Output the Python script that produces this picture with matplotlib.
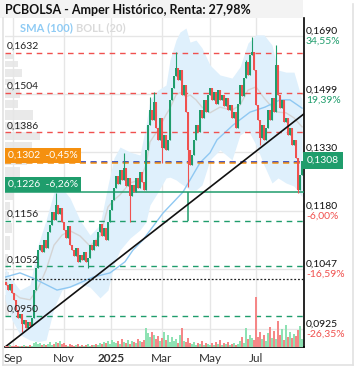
import numpy as np
import matplotlib
matplotlib.use("Agg")
import matplotlib.pyplot as plt
from matplotlib.patches import Rectangle
from matplotlib.lines import Line2D

plt.rcParams["font.family"] = ["Lato", "DejaVu Sans"]

# --- data (one candle ~ two sessions) --------------------------------------
closes = [
    0.1013, 0.1002, 0.1015, 0.0996, 0.0982, 0.0962, 0.0946, 0.0954, 0.0935, 0.0942,
    0.0927, 0.0938, 0.0931, 0.0946, 0.1002, 0.1049, 0.1088, 0.1099, 0.1084, 0.1111,
    0.1093, 0.1129, 0.1146, 0.1177, 0.1157, 0.1194, 0.1172, 0.1186, 0.1153, 0.1134,
    0.1115, 0.1143, 0.1099, 0.1088, 0.1075, 0.1093, 0.1062, 0.1077, 0.1066, 0.1084,
    0.1062, 0.1070, 0.1099, 0.1088, 0.1111, 0.1097, 0.1129, 0.1148, 0.1120, 0.1139,
    0.1111, 0.1153, 0.1182, 0.1206, 0.1236, 0.1267, 0.1246, 0.1283, 0.1257, 0.1288,
    0.1241, 0.1262, 0.1216, 0.1244, 0.1226, 0.1262, 0.1236, 0.1278, 0.1252, 0.1231,
    0.1337, 0.1407, 0.1451, 0.1422, 0.1476, 0.1399, 0.1365, 0.1428, 0.1342, 0.1379,
    0.1337, 0.1365, 0.1482, 0.1519, 0.1557, 0.1582, 0.1544, 0.1576, 0.1497, 0.1528,
    0.1445, 0.1337, 0.1296, 0.1323, 0.1365, 0.1407, 0.1387, 0.1451, 0.1428, 0.1482,
    0.1445, 0.1497, 0.1519, 0.1482, 0.1506, 0.1469, 0.1512, 0.1482, 0.1497, 0.1463,
    0.1488, 0.1451, 0.1466, 0.1428, 0.1445, 0.1399, 0.1469, 0.1528, 0.1494, 0.1550,
    0.1602, 0.1560, 0.1625, 0.1635, 0.1576, 0.1466, 0.1422, 0.1370, 0.1407, 0.1365,
    0.1399, 0.1451, 0.1422, 0.1488, 0.1445, 0.1592, 0.1497, 0.1457, 0.1482, 0.1416,
    0.1428, 0.1379, 0.1399, 0.1351, 0.1365, 0.1315, 0.1231, 0.1270, 0.1308,
]
first_open = 0.1018

wick_hi_idx = [25, 59, 72, 74, 85, 120, 123, 135]
wick_hi_val = [0.1224, 0.1329, 0.1491, 0.1506, 0.1635, 0.1610, 0.1687, 0.1659]
wick_lo_idx = [8, 41, 62, 78, 91, 127, 146]
wick_lo_val = [0.0919, 0.1049, 0.1153, 0.1302, 0.1239, 0.1351, 0.1224]

volume = [
    1, 1, 2, 1, 1, 2, 1, 1, 1, 2, 1, 1, 2, 1,
    4, 5, 3, 4,
    2, 3, 2, 3, 5, 2, 3,
    5, 4, 6, 3, 4,
    2, 1, 3, 2, 1, 2, 3, 1, 2, 1, 2, 3, 1, 2, 2,
    3, 2, 4, 3, 5,
    4, 6, 3, 7, 5,
    4, 6, 3, 8, 5, 4, 7, 3, 6, 5, 4, 8, 6, 5, 7,
    19, 14, 10, 15, 12, 8, 11,
    6, 9, 15, 7, 12, 5, 10, 6,
    8, 4, 12, 19, 6, 5, 9, 4,
    3, 5, 2, 4, 3, 6, 2, 4, 3, 2,
    4, 2, 5, 3, 7, 2, 4, 3, 5, 2, 3, 4, 2, 3,
    6, 10, 4, 19, 8, 12, 9, 7,
    50,
    10, 15, 8, 12, 6, 14, 20, 9, 16, 8, 26, 12, 18, 7, 22, 10, 15, 9, 13, 11, 17, 21, 8,
]

# Bollinger (20) band and SMA (100), sampled along the chart
boll_x = [-0.5, 3, 7, 12, 16, 20, 24, 28, 32, 37, 42, 47, 51, 54, 57, 62, 67, 70, 72, 76,
          80, 82, 85, 87, 90, 92, 95, 98, 102, 107, 113, 117, 121, 125, 129, 133, 136, 140,
          144, 148]
boll_up = [0.1049, 0.1023, 0.1002, 0.1013, 0.1099, 0.1157, 0.1226, 0.1236, 0.1211, 0.1157,
           0.1122, 0.1146, 0.1244, 0.1315, 0.1345, 0.1331, 0.1323, 0.1407, 0.1482, 0.1512,
           0.1528, 0.1609, 0.1676, 0.1704, 0.1718, 0.1669, 0.1676, 0.1649, 0.1592, 0.1560,
           0.1550, 0.1586, 0.1666, 0.1694, 0.1694, 0.1659, 0.1576, 0.1569, 0.1569, 0.1482]
boll_mid = [0.1023, 0.0998, 0.0986, 0.0982, 0.1006, 0.1044, 0.1099, 0.1122, 0.1132, 0.1120,
            0.1097, 0.1120, 0.1189, 0.1206, 0.1219, 0.1249, 0.1257, 0.1296, 0.1359, 0.1393,
            0.1437, 0.1457, 0.1497, 0.1504, 0.1491, 0.1497, 0.1482, 0.1460, 0.1443, 0.1460,
            0.1451, 0.1466, 0.1512, 0.1522, 0.1488, 0.1460, 0.1445, 0.1443, 0.1428, 0.1402]
boll_lo = [0.0982, 0.0942, 0.0914, 0.0904, 0.0901, 0.0904, 0.0966, 0.1002, 0.1008, 0.1015,
           0.1008, 0.0986, 0.1002, 0.1056, 0.1088, 0.1115, 0.1134, 0.1153, 0.1194, 0.1226,
           0.1262, 0.1264, 0.1257, 0.1249, 0.1239, 0.1231, 0.1231, 0.1244, 0.1310, 0.1337,
           0.1310, 0.1379, 0.1393, 0.1351, 0.1296, 0.1249, 0.1262, 0.1249, 0.1241, 0.1214]

sma_x = [-0.5, 7, 13.5, 25.5, 32, 43.5, 52, 59.5, 63.5, 68.5, 78.5, 88.5, 97, 102, 105.5,
         113.5, 122, 129.5, 137, 142, 148]
sma_y = [0.1029, 0.1038, 0.1027, 0.1002, 0.1008, 0.1029, 0.1038, 0.1062, 0.1088, 0.1111,
         0.1174, 0.1226, 0.1302, 0.1329, 0.1365, 0.1407, 0.1445, 0.1460, 0.1482, 0.1482,
         0.1457]

# volume-by-price profile on the left edge
vp_edges = [0.1632, 0.1612, 0.1586, 0.1553, 0.1528, 0.1488, 0.1457, 0.1422, 0.1393, 0.1365,
            0.1329, 0.1296, 0.1264, 0.1231, 0.1206, 0.1182, 0.1157, 0.1127, 0.1088, 0.1049,
            0.1002, 0.0950]
vp_vol = [8, 13, 17, 10, 15, 13, 28, 20, 35, 27, 22, 15, 10, 8, 5, 4, 7, 5, 3, 4, 4]

month_pos = [3.5, 29, 52.5, 78, 102, 125]
month_lbl = ["Sep", "Nov", "2025", "Mar", "May", "Jul"]

last_price = 0.1308
left_red = [0.1632, 0.1504, 0.1386]
left_green = [0.1156, 0.1052, 0.0950]
orange_lvl = 0.1302
blue_lvl = 0.1305
support_lvl = 0.1226
box_levels = [orange_lvl, support_lvl]
box_pct = ["-0,45%", "-6,26%"]
dotted_lvl = 0.1025
right_ticks = [0.1690, 0.1499, 0.1330, 0.1180, 0.1047, 0.0925]
right_pct = ["34,55%", "19,39%", "5,91%", "-6,00%", "-16,59%", "-26,35%"]
trend_x = [-0.5, 149]
trend_y = [0.0891, 0.1440]
seg_x = 91

GREEN = "#1f9d6c"
RED = "#f0514f"
ORANGE = "#f5900f"
GRID = "#e6e6e6"


def fmt(v, nd=4):
    return f"{v:.{nd}f}".replace(".", ",")


W, H = 358, 370
fig = plt.figure(figsize=(W / 100, H / 100), dpi=100)
fig.patch.set_facecolor("white")

# main price axes (pixel box 5..304 x 18..347)
ax = fig.add_axes([5 / W, (H - 347) / H, 299 / W, 329 / H])
ax.set_yscale("log")
ax.set_ylim(0.08912, 0.17539)
ax.set_xlim(-0.5, 149)

axp = ax.twiny()   # volume profile
axv = ax.twinx()   # volume bars
axp.set_zorder(0)
ax.set_zorder(1)
axv.set_zorder(2)
ax.patch.set_visible(False)
axv.patch.set_visible(False)

# profile bars
lo_e = np.array(vp_edges[1:])
hi_e = np.array(vp_edges[:-1])
axp.barh(lo_e, vp_vol, height=(hi_e - lo_e) * 0.8, left=0, align="edge",
         color="#e9e9e9", edgecolor="none")
axp.set_xlim(0, 299)
axp.set_yscale("log")
axp.set_ylim(ax.get_ylim())
axp.axis("off")

# grid
for p in month_pos:
    ax.axvline(p, color=GRID, lw=1, zorder=0)
for p in right_ticks:
    ax.axhline(p, color=GRID, lw=1, zorder=0)

# bollinger + sma
ax.fill_between(boll_x, boll_lo, boll_up, color="#dff0fc", lw=0, zorder=1)
ax.plot(boll_x, boll_mid, color="#d4d4d4", lw=1, zorder=2)
ax.plot(sma_x, sma_y, color="#8fc8f2", lw=1, zorder=2)

# candles
c = np.array(closes)
o = np.r_[first_open, c[:-1]]
hi = np.maximum(o, c)
lo = np.minimum(o, c)
hi[wick_hi_idx] = wick_hi_val
lo[wick_lo_idx] = wick_lo_val
idx = np.arange(len(c))
col = np.where(c >= o, GREEN, RED)
ax.vlines(idx, lo, hi, colors=col, lw=0.8, zorder=4)
ax.bar(idx, np.abs(c - o), bottom=np.minimum(o, c), width=0.7,
       color=col, edgecolor="none", zorder=4)

# horizontal levels
for lv in left_red:
    ax.axhline(lv, color=RED, lw=1, ls=(0, (4, 3.5)), zorder=3)
for lv in left_green:
    ax.axhline(lv, color=GREEN, lw=1, ls=(0, (4, 3.5)), zorder=3)
ax.axhline(blue_lvl, color="#1a2aa8", lw=1.1, ls=(0, (4, 3)), zorder=3)
ax.axhline(orange_lvl, color=ORANGE, lw=1.1, ls=(0, (4, 3)), zorder=3)
ax.axhline(support_lvl, color=GREEN, lw=1.1, zorder=3)
ax.axhline(dotted_lvl, color="#222222", lw=0.9, ls=(0, (1.5, 1.5)), zorder=3)
ax.vlines(seg_x, left_green[0], support_lvl, color=GREEN, lw=1.1, zorder=3)
ax.plot(trend_x, trend_y, color="#111111", lw=1.2, zorder=5)

# volume bars
axv.bar(idx, volume, width=0.7, color=np.where(c >= o, "#8ee2b3", "#f58787"),
        edgecolor="none")
axv.set_ylim(0, max(volume) * 329 / 50)
axv.axis("off")

# axes cosmetics
ax.set_xticks(month_pos)
ax.set_xticklabels(month_lbl, fontsize=8.5, color="#333333")
ax.get_xticklabels()[2].set_fontweight("bold")
ax.tick_params(axis="x", length=0, pad=4)
ax.set_yticks([])
ax.yaxis.set_minor_locator(matplotlib.ticker.NullLocator())
for s in ["top", "left"]:
    ax.spines[s].set_visible(False)
for s in ["bottom", "right"]:
    ax.spines[s].set_color("black")
    ax.spines[s].set_linewidth(1.2)
for a in (axp, axv):
    for s in a.spines.values():
        s.set_visible(False)

ytr = ax.get_yaxis_transform()

# left level labels
for lv in left_red + left_green:
    ax.annotate(fmt(lv), xy=(0, lv), xycoords=ytr, xytext=(2, 2),
                textcoords="offset pixels", fontsize=7.5, color="#222222",
                va="bottom", ha="left", zorder=6)

for lv, pct, fc in zip(box_levels, box_pct, [ORANGE, GREEN]):
    ax.annotate(f"{fmt(lv)}  {pct}", xy=(0, lv), xycoords=ytr,
                xytext=(3, 3), textcoords="offset pixels", fontsize=7.5,
                color="white", va="bottom", ha="left", zorder=7,
                bbox=dict(boxstyle="square,pad=0.3", fc=fc, ec="none"))

# right axis labels
for p, pct in zip(right_ticks, right_pct):
    ax.annotate(fmt(p), xy=(1, p), xycoords=ytr, xytext=(2, 0),
                textcoords="offset pixels", fontsize=7.5, color="#111111",
                va="bottom", ha="left", annotation_clip=False)
    ax.annotate(pct, xy=(1, p), xycoords=ytr, xytext=(2, -1),
                textcoords="offset pixels", fontsize=7.5,
                color=RED if pct.startswith("-") else GREEN, va="top", ha="left",
                annotation_clip=False)
ax.annotate(fmt(last_price), xy=(1, last_price), xycoords=ytr, xytext=(3, 0),
            textcoords="offset pixels", fontsize=7.5, color="white", va="center",
            ha="left", annotation_clip=False, zorder=8,
            bbox=dict(boxstyle="square,pad=0.35", fc=GREEN, ec="none"))

# title bar + legend
fig.add_artist(Rectangle((0, (H - 18) / H), 303 / W, 18 / H, transform=fig.transFigure,
                         fc="#f3f3f3", ec="none"))
fig.text(5 / W, (H - 10) / H, "PCBOLSA - Amper Histórico, Renta: 27,98%",
         fontsize=9, fontweight="bold", color="#111111", va="center", ha="left")
fig.text(20 / W, (H - 28) / H, "SMA (100)", fontsize=8, fontweight="bold",
         color="#8fcbf4", va="center", ha="left")
fig.text(76 / W, (H - 28) / H, "BOLL (20)", fontsize=8, fontweight="bold",
         color="#dadada", va="center", ha="left")

# outer frame
fig.add_artist(Line2D([353 / W, 353 / W], [5 / H, (H - 4) / H], transform=fig.transFigure,
                      color="#e2e2e2", lw=1.2))
fig.add_artist(Line2D([3 / W, 353 / W], [5 / H, 5 / H], transform=fig.transFigure,
                      color="#e2e2e2", lw=1.2))
fig.add_artist(Line2D([3 / W, 3 / W], [5 / H, (H - 18) / H], transform=fig.transFigure,
                      color="#e2e2e2", lw=1.2))

fig.savefig("out.png", dpi=100)
